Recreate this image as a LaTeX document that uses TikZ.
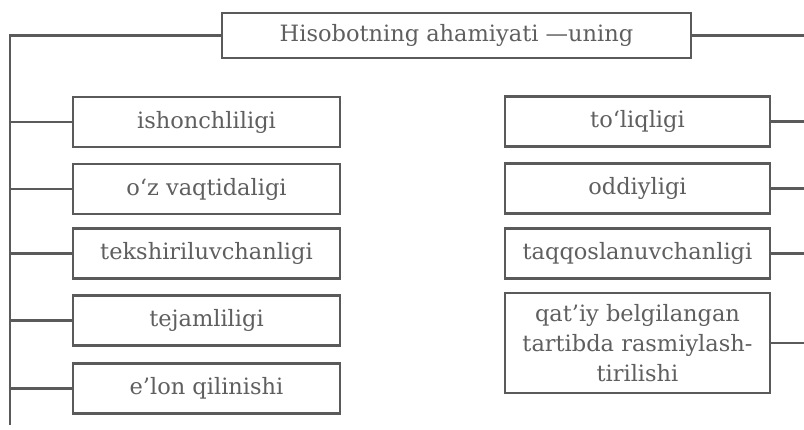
\documentclass[tikz,border=0pt]{standalone}
\usepackage{fontspec}
\setmainfont{DejaVu Serif}
\definecolor{ln}{RGB}{90,90,90}
\definecolor{tx}{RGB}{95,95,95}
\begin{document}
\begin{tikzpicture}[x=1pt,y=-1pt,
  box/.style={draw=ln, line width=2.4pt, fill=white, inner sep=0pt, text=tx,
    font=\fontsize{22.5}{30}\selectfont, align=center},
  lbox/.style={box, minimum width=267pt, minimum height=50pt},
  rbox/.style={box, minimum width=265pt, minimum height=50pt},
  conn/.style={draw=ln, line width=2.4pt}]
\fill[white] (0,0) rectangle (804,430);
\useasboundingbox (0,0) rectangle (804,430);
% top
\node[box, minimum width=469pt, minimum height=45pt] (top) at (456.5,35.5) {Hisobotning ahamiyati —uning};
% left column
\node[lbox] (l1) at (206.5,122) {ishonchliligi};
\node[lbox] (l2) at (206.5,189) {o‘z vaqtidaligi};
\node[lbox] (l3) at (206.5,253.5) {tekshiriluvchanligi};
\node[lbox] (l4) at (206.5,320.5) {tejamliligi};
\node[lbox] (l5) at (206.5,388.5) {e’lon qilinishi};
% right column
\node[rbox] (r1) at (637.5,121.5) {to‘liqligi};
\node[rbox] (r2) at (637.5,188.5) {oddiyligi};
\node[rbox] (r3) at (637.5,253.5) {taqqoslanuvchanligi};
\node[rbox, minimum height=100pt] (r4) at (637.5,343) {qat’iy belgilangan\\tartibda rasmiylash-\\tirilishi};
% trunk coordinates
\coordinate (lt) at (10,35.5);
\coordinate (lb) at (10,425);
\coordinate (rt) at (804,38);
% connectors
\draw[conn] (top.west) -- (lt) -- (lb);
\foreach \n in {l1,l2,l3,l4,l5} \draw[conn] (\n.west) -- (\n.west -| lt);
\draw[conn] (top.east) -- (top.east -| rt);
\foreach \n in {r1,r2,r3,r4} \draw[conn] (\n.east) -- (\n.east -| rt);
\end{tikzpicture}
\end{document}
